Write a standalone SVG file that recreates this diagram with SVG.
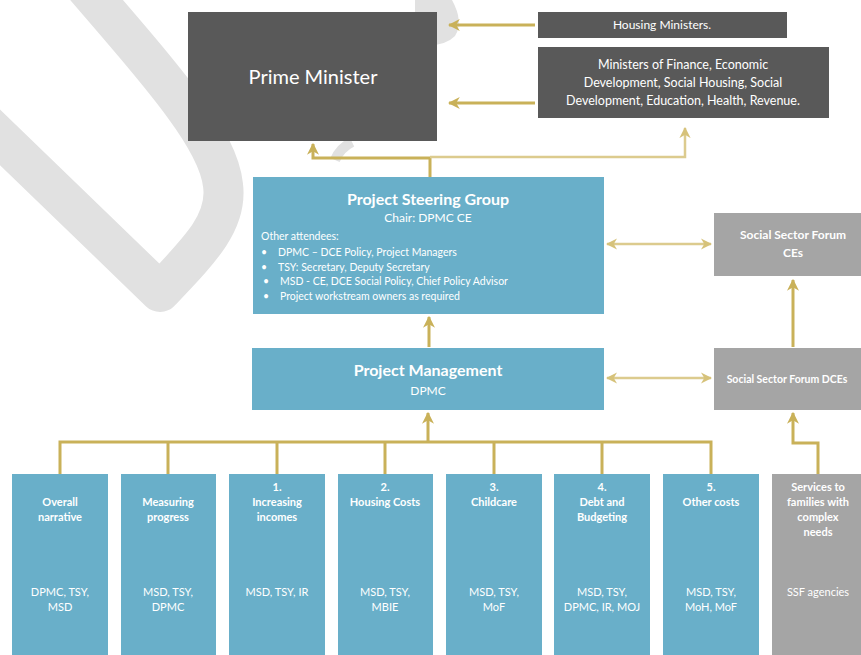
<svg xmlns="http://www.w3.org/2000/svg" width="861" height="655" viewBox="0 0 861 655">
<style>
  text { font-family: Lato, "Open Sans", "Liberation Sans", sans-serif; fill: #ffffff; }
  .dark { fill: #595959; }
  .blue { fill: #69afc9; }
  .grey { fill: #a5a5a5; }
  .c { text-anchor: middle; }
  .con { fill: none; stroke: #c9b159; stroke-width: 3; }
  .lite { fill: none; stroke: #dccb8e; stroke-width: 2.5; }
  .wm { fill: none; stroke: #e1e1e1; stroke-linejoin: round; stroke-linecap: butt; }
  .t11 { font-size: 11px; }
</style>
<defs>
  <marker id="ah" viewBox="0 0 10 10" refX="9" refY="5" markerWidth="4" markerHeight="4" orient="auto-start-reverse" markerUnits="strokeWidth">
    <path d="M0,0 L10,5 L0,10 L3,5 Z" fill="#c9b159"/>
  </marker>
  <marker id="ahl" viewBox="0 0 10 10" refX="9" refY="5" markerWidth="4.5" markerHeight="4.5" orient="auto-start-reverse" markerUnits="strokeWidth">
    <path d="M0,0 L10,5 L0,10 L3,5 Z" fill="#d6c27a"/>
  </marker>
</defs>
<rect width="861" height="655" fill="#ffffff"/>

<g id="watermark">
  <path class="wm" stroke-width="40" d="M -20,118 L 160,292 C 200,250 228,222 223,185 C 218,140 170,85 75,-25"/>
  <path d="M 415,0 L 452,0 Q 464,22 455,36 Q 446,45 430,45 L 415,45 Z" fill="#e1e1e1"/>
  <path class="wm" stroke-width="10" d="M 335,160 Q 340,148 352,142"/>
</g>

<g id="connectors">
  <line class="con" x1="535" y1="25" x2="449" y2="25" marker-end="url(#ah)"/>
  <line class="con" x1="535" y1="103" x2="449" y2="103" marker-end="url(#ah)"/>
  <polyline class="con" points="430,177 430,158 313,158 313,144" marker-end="url(#ah)"/>
  <polyline class="lite" points="430,157 685,157 685,128" marker-end="url(#ahl)"/>
  <line class="con" x1="429" y1="347" x2="429" y2="317" marker-end="url(#ah)"/>
  <line class="lite" x1="607" y1="244" x2="711" y2="244" marker-start="url(#ahl)" marker-end="url(#ahl)"/>
  <line class="lite" x1="607" y1="378" x2="711" y2="378" marker-start="url(#ahl)" marker-end="url(#ahl)"/>
  <line class="con" x1="793" y1="347" x2="793" y2="280" marker-end="url(#ah)"/>
  <polyline class="con" points="60,474 60,442 711,442 711,474"/>
  <line class="con" x1="168" y1="442" x2="168" y2="474"/>
  <line class="con" x1="277" y1="442" x2="277" y2="474"/>
  <line class="con" x1="385" y1="442" x2="385" y2="474"/>
  <line class="con" x1="494" y1="442" x2="494" y2="474"/>
  <line class="con" x1="602" y1="442" x2="602" y2="474"/>
  <line class="con" x1="428" y1="442" x2="428" y2="413" marker-end="url(#ah)"/>
  <polyline class="con" points="818,474 818,443 793,443 793,413" marker-end="url(#ah)"/>
</g>

<g id="prime-minister">
  <rect class="dark" x="188" y="12" width="249" height="129"/>
  <text class="c" x="313" y="84" font-size="20">Prime Minister</text>
</g>
<g id="housing-ministers">
  <rect class="dark" x="538" y="12" width="249" height="26"/>
  <text class="c" x="662" y="29" font-size="12">Housing Ministers.</text>
</g>
<g id="ministers">
  <rect class="dark" x="538" y="47" width="291" height="71"/>
  <text class="c" font-size="12.5"><tspan x="683" y="69">Ministers of Finance, Economic</tspan><tspan x="683" y="87">Development, Social Housing, Social</tspan><tspan x="683" y="105">Development, Education, Health, Revenue.</tspan></text>
</g>
<g id="project-steering-group">
  <rect class="blue" x="253" y="177" width="351" height="137"/>
  <text class="c" x="428" y="205" font-size="16" font-weight="bold">Project Steering Group</text>
  <text class="c" x="428" y="222" font-size="12">Chair:  DPMC CE</text>
  <text x="261" y="240" font-size="10.5">Other attendees:</text>
  <g font-size="10.5">
    <text x="261" y="256">•</text><text x="278" y="256">DPMC – DCE Policy, Project Managers</text>
    <text x="261" y="271">•</text><text x="278" y="271">TSY: Secretary, Deputy Secretary</text>
    <text x="263" y="285">•</text><text x="280" y="285">MSD - CE, DCE Social Policy, Chief Policy Advisor</text>
    <text x="263" y="300">•</text><text x="280" y="300">Project workstream owners as required</text>
  </g>
</g>
<g id="social-sector-forum-ces">
  <rect class="grey" x="714" y="213" width="147" height="63"/>
  <text class="c" font-size="12" font-weight="bold"><tspan x="793" y="239">Social Sector Forum</tspan><tspan x="793" y="257">CEs</tspan></text>
</g>
<g id="project-management">
  <rect class="blue" x="252" y="348" width="352" height="62"/>
  <text class="c" x="428" y="376" font-size="16" font-weight="bold">Project Management</text>
  <text class="c" x="428" y="395" font-size="12">DPMC</text>
</g>
<g id="social-sector-forum-dces">
  <rect class="grey" x="714" y="348" width="147" height="62"/>
  <text class="c" x="787" y="383" font-size="10.5" font-weight="bold">Social Sector Forum DCEs</text>
</g>

<g id="overall-narrative">
  <rect class="blue" x="12" y="474" width="96" height="181"/>
  <text class="c t11" font-weight="bold"><tspan x="60" y="506">Overall</tspan><tspan x="60" y="521">narrative</tspan></text>
  <text class="c t11"><tspan x="60" y="596">DPMC, TSY,</tspan><tspan x="60" y="611">MSD</tspan></text>
</g>
<g id="measuring-progress">
  <rect class="blue" x="121" y="474" width="95" height="181"/>
  <text class="c t11" font-weight="bold"><tspan x="168" y="506">Measuring</tspan><tspan x="168" y="521">progress</tspan></text>
  <text class="c t11"><tspan x="168" y="596">MSD, TSY,</tspan><tspan x="168" y="611">DPMC</tspan></text>
</g>
<g id="increasing-incomes">
  <rect class="blue" x="229" y="474" width="96" height="181"/>
  <text class="c t11" font-weight="bold"><tspan x="277" y="491">1.</tspan><tspan x="277" y="506">Increasing</tspan><tspan x="277" y="521">incomes</tspan></text>
  <text class="c t11"><tspan x="277" y="596">MSD, TSY, IR</tspan></text>
</g>
<g id="housing-costs">
  <rect class="blue" x="338" y="474" width="95" height="181"/>
  <text class="c t11" font-weight="bold"><tspan x="385" y="491">2.</tspan><tspan x="385" y="506">Housing Costs</tspan></text>
  <text class="c t11"><tspan x="385" y="596">MSD, TSY,</tspan><tspan x="385" y="611">MBIE</tspan></text>
</g>
<g id="childcare">
  <rect class="blue" x="446" y="474" width="96" height="181"/>
  <text class="c t11" font-weight="bold"><tspan x="494" y="491">3.</tspan><tspan x="494" y="506">Childcare</tspan></text>
  <text class="c t11"><tspan x="494" y="596">MSD, TSY,</tspan><tspan x="494" y="611">MoF</tspan></text>
</g>
<g id="debt-and-budgeting">
  <rect class="blue" x="554" y="474" width="96" height="181"/>
  <text class="c t11" font-weight="bold"><tspan x="602" y="491">4.</tspan><tspan x="602" y="506">Debt and</tspan><tspan x="602" y="521">Budgeting</tspan></text>
  <text class="c t11"><tspan x="602" y="596">MSD, TSY,</tspan><tspan x="602" y="611">DPMC, IR, MOJ</tspan></text>
</g>
<g id="other-costs">
  <rect class="blue" x="663" y="474" width="96" height="181"/>
  <text class="c t11" font-weight="bold"><tspan x="711" y="491">5.</tspan><tspan x="711" y="506">Other costs</tspan></text>
  <text class="c t11"><tspan x="711" y="596">MSD, TSY,</tspan><tspan x="711" y="611">MoH, MoF</tspan></text>
</g>
<g id="services-to-families">
  <rect class="grey" x="772" y="474" width="89" height="181"/>
  <text class="c t11" font-weight="bold"><tspan x="818" y="491">Services to</tspan><tspan x="818" y="506">families with</tspan><tspan x="818" y="521">complex</tspan><tspan x="818" y="536">needs</tspan></text>
  <text class="c t11"><tspan x="818" y="596">SSF agencies</tspan></text>
</g>
</svg>
